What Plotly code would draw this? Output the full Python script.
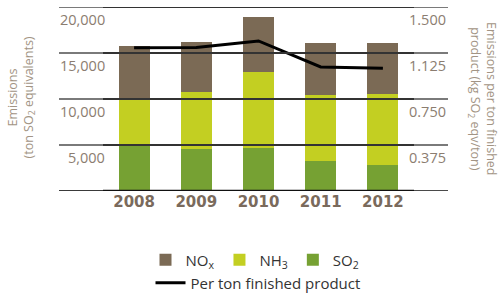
import plotly.graph_objects as go

years = ["2008", "2009", "2010", "2011", "2012"]
so2 = [4890, 4600, 4710, 3260, 2860]
nh3 = [5140, 6130, 8190, 7140, 7650]
nox = [5730, 5470, 6050, 5690, 5580]
per_ton = [1.168, 1.170, 1.223, 1.011, 1.000]

left_ticks = [5000, 10000, 15000, 20000]
left_labels = ["5,000", "10,000", "15,000", "20,000"]
right_ticks = [0.375, 0.750, 1.125, 1.500]
right_labels = ["0.375", "0.750", "1.125", "1.500"]

C_NOX = "#7b6a55"
C_NH3 = "#c3cf22"
C_SO2 = "#76a133"
TICK_COL = "#8b7d70"
TITLE_COL = "#a29484"
FONT = "Open Sans"

W, H = 499, 293
L, R, T, B = 103, 85, 7, 102
pw = W - L - R
ph = H - T - B

def px_x(p):
    return (p - L) / pw

def px_y(p):
    return (H - B - p) / ph

def cy(p):
    return 1 - p / H

fig = go.Figure()
fig.add_trace(go.Bar(x=years, y=so2, name="SO<sub>2</sub>", marker_color=C_SO2,
                     marker_line_width=0, legend="legend", legendrank=3))
fig.add_trace(go.Bar(x=years, y=nh3, name="NH<sub>3</sub>", marker_color=C_NH3,
                     marker_line_width=0, legend="legend", legendrank=2))
fig.add_trace(go.Bar(x=years, y=nox, name="NO<sub>x</sub>", marker_color=C_NOX,
                     marker_line_width=0, legend="legend", legendrank=1))
fig.add_trace(go.Scatter(x=years, y=per_ton, name="Per ton finished product", mode="lines",
                         line=dict(color="#000000", width=3), yaxis="y2", legend="legend2"))

shapes = []
grid_vals = [0] + left_ticks
for v in grid_vals:
    base = (v == 0)
    shapes.append(dict(type="line", xref="paper", yref="y", x0=px_x(59), x1=0, y0=v, y1=v,
                       line=dict(color="#3a3a3a" if base else "#7a7a7a", width=2), layer="above"))
    shapes.append(dict(type="line", xref="paper", yref="y", x0=0, x1=1, y0=v, y1=v,
                       line=dict(color="#111111" if base else "#333333", width=2.5 if base else 2),
                       layer="above"))
    shapes.append(dict(type="line", xref="paper", yref="y", x0=1, x1=px_x(448), y0=v, y1=v,
                       line=dict(color="#4a4a4a" if base else "#7a7a7a", width=2), layer="above"))

annotations = []
for v, t in zip(left_ticks, left_labels):
    annotations.append(dict(xref="paper", yref="y", x=px_x(107), y=v, text=t, showarrow=False,
                            xanchor="right", yanchor="middle", yshift=-12,
                            font=dict(family=FONT, size=14.5, color=TICK_COL)))
for v, t in zip(right_ticks, right_labels):
    annotations.append(dict(xref="paper", yref="y2", x=px_x(448), y=v, text=t, showarrow=False,
                            xanchor="right", yanchor="middle", yshift=-12,
                            font=dict(family=FONT, size=14.5, color=TICK_COL)))

annotations.append(dict(xref="paper", yref="paper", x=px_x(20.5), y=px_y(98),
                        text="Emissions<br>(ton SO<sub>2</sub> equivalents)", showarrow=False,
                        textangle=-90, xanchor="center", yanchor="middle",
                        font=dict(family=FONT, size=12.5, color=TITLE_COL)))
annotations.append(dict(xref="paper", yref="paper", x=px_x(483), y=px_y(99),
                        text="Emissions per ton finished<br>product (kg SO<sub>2</sub> eqv/ton)",
                        showarrow=False, textangle=90, xanchor="center", yanchor="middle",
                        font=dict(family=FONT, size=12.5, color=TITLE_COL)))

fig.update_layout(
    width=W, height=H,
    margin=dict(l=L, r=R, t=T, b=B, autoexpand=False),
    paper_bgcolor="white", plot_bgcolor="white",
    barmode="stack", bargap=0.5,
    xaxis=dict(type="category", showgrid=False, showline=False, zeroline=False, ticks="",
               ticklen=0, automargin=False,
               tickfont=dict(family="DejaVu Sans", size=15, color="#7a6a5c", weight="bold")),
    yaxis=dict(range=[0, 20000], showgrid=False, zeroline=False, showticklabels=False,
               showline=False, ticks="", automargin=False),
    yaxis2=dict(range=[0, 1.5], overlaying="y", side="right", showgrid=False, zeroline=False,
                showticklabels=False, showline=False, ticks="", automargin=False),
    legend=dict(orientation="h", x=px_x(255), xanchor="center", yref="container", y=cy(260),
                yanchor="middle", traceorder="normal",
                font=dict(family=FONT, size=15, color="#333333"), itemwidth=30,
                bgcolor="rgba(0,0,0,0)", tracegroupgap=0),
    legend2=dict(orientation="h", x=px_x(258), xanchor="center", yref="container", y=cy(283),
                 yanchor="middle",
                 font=dict(family=FONT, size=15, color="#333333"), itemwidth=30,
                 bgcolor="rgba(0,0,0,0)"),
    shapes=shapes,
    annotations=annotations,
    showlegend=True,
)

fig.write_html("out.html", config={"displayModeBar": False},
               post_script="document.body.style.margin='0';")
